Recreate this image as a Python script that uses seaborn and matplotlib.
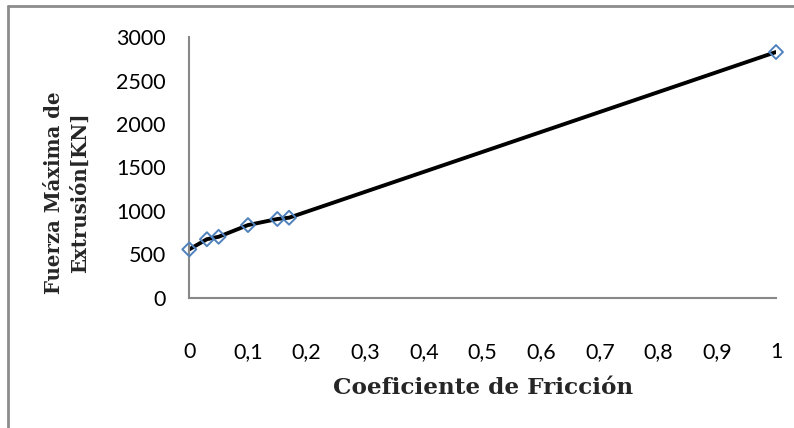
import matplotlib
matplotlib.use("Agg")
import matplotlib.pyplot as plt
import seaborn as sns
import pandas as pd
from matplotlib.lines import Line2D

coef_friccion = [0.0, 0.03, 0.05, 0.10, 0.15, 0.17, 1.0]
fuerza_max = [555, 672, 700, 835, 905, 920, 2830]
x_ticks = [0.0, 0.1, 0.2, 0.3, 0.4, 0.5, 0.6, 0.7, 0.8, 0.9, 1.0]
x_tick_labels = ["0", "0,1", "0,2", "0,3", "0,4", "0,5", "0,6", "0,7", "0,8", "0,9", "1"]
y_ticks = [0, 500, 1000, 1500, 2000, 2500, 3000]
y_tick_labels = ["0", "500", "1000", "1500", "2000", "2500", "3000"]

df = pd.DataFrame({"x": coef_friccion, "y": fuerza_max})

sns.set_style("white")
plt.rcParams["font.family"] = ["Lato", "DejaVu Sans"]

fig = plt.figure(figsize=(7.94, 4.28), dpi=100)
ax = fig.add_axes([189.3 / 794, 1 - 297.5 / 428, (776 - 189.3) / 794, (297.5 - 37.3) / 428])

sns.lineplot(data=df, x="x", y="y", ax=ax, color="black", linewidth=2.8, zorder=2)
sns.scatterplot(data=df, x="x", y="y", ax=ax, marker="D", s=50,
                facecolor="none", edgecolor="#4F81BD", linewidth=1.4, zorder=3, clip_on=False)

ax.set_xlim(0, 1)
ax.set_ylim(0, 3000)
ax.set_xticks(x_ticks)
ax.set_xticklabels(x_tick_labels)
ax.set_yticks(y_ticks)
ax.set_yticklabels(y_tick_labels)
ax.tick_params(axis="both", length=0, labelsize=15.5, colors="black")
ax.tick_params(axis="x", pad=32)
ax.tick_params(axis="y", pad=17)

for s in ["top", "right"]:
    ax.spines[s].set_visible(False)
for s in ["left", "bottom"]:
    ax.spines[s].set_color("#888888")
    ax.spines[s].set_linewidth(1.5)

ax.set_xlabel("Coeficiente de Fricción", family="DejaVu Serif", fontweight="bold", fontsize=16.7)
ax.xaxis.set_label_coords(0.5, -(388 - 297.5) / 260.2)
ax.xaxis.label.set_va("center")
ax.set_ylabel("Fuerza Máxima de\nExtrusión[KN]", family="DejaVu Serif", fontweight="bold",
              fontsize=14.2, linespacing=1.38)
ax.yaxis.set_label_coords((67 - 189.3) / 586.7, (297.5 - 193) / 260.2)
ax.yaxis.label.set_va("center")

# outer chart border (left and top edges visible)
fig.add_artist(Line2D([8 / 794, 8 / 794], [0, 1 - 6 / 428], transform=fig.transFigure,
                      color="#8c8c8c", linewidth=2))
fig.add_artist(Line2D([8 / 794, 1], [1 - 6 / 428, 1 - 6 / 428], transform=fig.transFigure,
                      color="#8c8c8c", linewidth=2))

fig.savefig("out.png", dpi=100, facecolor="white")
